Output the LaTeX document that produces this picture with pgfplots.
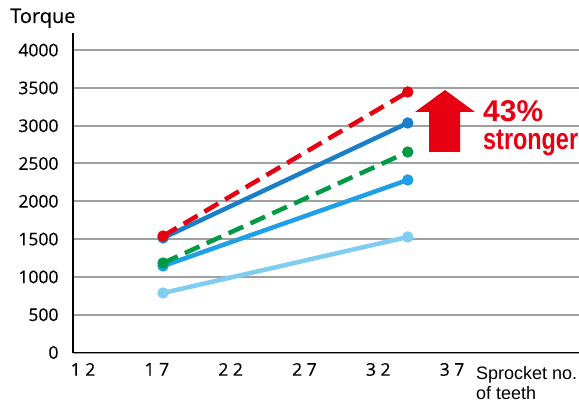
\documentclass[border=0pt]{standalone}
\usepackage{pgfplots}
\pgfplotsset{compat=1.18}
\usepackage{fontspec}
\setmainfont[FakeBold=0.4]{Open Sans}
\newfontfamily\labfont{Liberation Sans}
\newfontfamily\strongfont[FakeStretch=0.78]{Liberation Sans}

\definecolor{cred}{HTML}{E60012}
\definecolor{cdblue}{HTML}{1A7FC9}
\definecolor{cgreen}{HTML}{009944}
\definecolor{cmblue}{HTML}{1EA0E6}
\definecolor{clblue}{HTML}{80CDF2}
\definecolor{cgrid}{HTML}{A0A0A0}

\begin{document}
\begin{tikzpicture}
\useasboundingbox (-73pt,-54.5pt) rectangle (506pt,352.5pt);
\begin{axis}[
    scale only axis, width=506pt, height=319.5pt,
    xmin=11.32, xmax=45.6, ymin=0, ymax=4226,
    axis x line=bottom, axis y line=left,
    axis line style={black, line width=1.2pt, -},
    xtick={12,17,22,27,32,37},
    xticklabels={1 2,1 7,2 2,2 7,3 2,3 7},
    ytick={0,500,...,4000},
    ymajorgrids, grid style={cgrid, line width=2pt},
    major tick length=0pt,
    tick label style={font=\fontsize{17.5}{17.5}\selectfont},
    /pgf/number format/assume math mode=true,
    /pgf/number format/1000 sep={},
    yticklabel style={xshift=-11pt},
    xticklabel style={yshift=-7pt},
    clip=false,
]
\addplot[cdblue, line width=4.5pt, mark=*, mark size=3.3pt] coordinates {(17.42,1515) (34.0,3036)};
\addplot[cred, line width=4.5pt, dash pattern=on 16pt off 8pt, mark=*, mark size=3.3pt, mark options={solid}] coordinates {(17.42,1541) (34.0,3446)};
\addplot[cmblue, line width=4.5pt, mark=*, mark size=3.3pt] coordinates {(17.42,1144) (34.0,2282)};
\addplot[cgreen, line width=4.5pt, dash pattern=on 16pt off 8pt, mark=*, mark size=3.3pt, mark options={solid}] coordinates {(17.42,1184) (34.0,2652)};
\addplot[clblue, line width=4.5pt, mark=*, mark size=3.3pt] coordinates {(17.42,787) (34.0,1528)};
\end{axis}
% annotation
\fill[cred] (356pt,200.5pt) -- (387pt,200.5pt) -- (387pt,240.5pt) -- (402pt,240.5pt)
    -- (372pt,262.5pt) -- (342pt,240.5pt) -- (356pt,240.5pt) -- cycle;
\node[anchor=base west, inner sep=0pt, text=cred, font=\labfont\bfseries\fontsize{30}{30}\selectfont] at (410pt,230.5pt) {43\%};
\node[anchor=base west, inner sep=0pt, text=cred, font=\strongfont\bfseries\fontsize{30}{30}\selectfont] at (410pt,202.5pt) {stronger};
\node[anchor=base west, inner sep=0pt, font=\fontsize{20}{20}\selectfont] at (-63pt,329.5pt) {Torque};
\node[anchor=base west, inner sep=0pt, font=\labfont\fontsize{18}{18}\selectfont] at (403pt,-27.5pt) {Sprocket no.};
\node[anchor=base west, inner sep=0pt, font=\labfont\fontsize{18}{18}\selectfont] at (403pt,-47.5pt) {of teeth};
\end{tikzpicture}
\end{document}
